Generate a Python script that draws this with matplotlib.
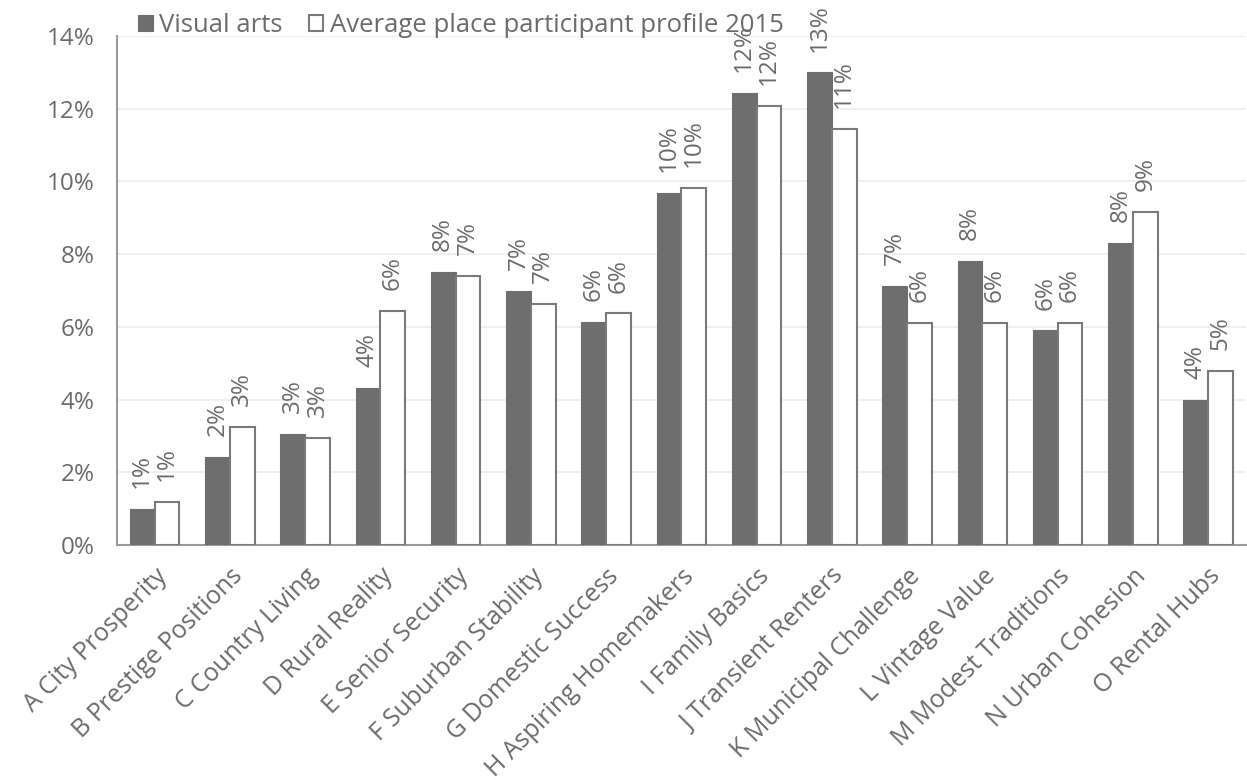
import matplotlib
matplotlib.use("Agg")
import matplotlib.pyplot as plt
import matplotlib.transforms as mtransforms
import numpy as np
from matplotlib.ticker import PercentFormatter

categories = [
    "A City Prosperity", "B Prestige Positions", "C Country Living",
    "D Rural Reality", "E Senior Security", "F Suburban Stability",
    "G Domestic Success", "H Aspiring Homemakers", "I Family Basics",
    "J Transient Renters", "K Municipal Challenge", "L Vintage Value",
    "M Modest Traditions", "N Urban Cohesion", "O Rental Hubs",
]
visual_arts = [1.0, 2.43, 3.06, 4.33, 7.51, 7.0, 6.14, 9.69, 12.43, 13.0,
               7.13, 7.82, 5.90, 8.30, 3.99]
average_profile = [1.18, 3.24, 2.94, 6.44, 7.41, 6.64, 6.37, 9.82, 12.07, 11.45,
                   6.11, 6.11, 6.10, 9.17, 4.78]
series_names = ["Visual arts", "Average place participant profile 2015"]

TEXT = "#6b6b6b"
DARK = "#6e6e6e"
EDGE = "#7a7a7a"
FS = 17.5

plt.rcParams["font.family"] = ["Open Sans", "DejaVu Sans"]

fig = plt.figure(figsize=(12.47, 7.80), dpi=100)
ax = fig.add_axes([117 / 1247, 1 - 545 / 780, 1 - 117 / 1247 - 0.001, (545 - 36) / 780])

x = np.arange(len(categories))
w = 0.33
b1 = ax.bar(x - w / 2, visual_arts, w, color=DARK, edgecolor=DARK, linewidth=0.8,
            label=series_names[0], zorder=3)
b2 = ax.bar(x + w / 2, average_profile, w, color="white", edgecolor=EDGE, linewidth=1.5,
            label=series_names[1], zorder=3)

for bars, vals in ((b1, visual_arts), (b2, average_profile)):
    for rect, v in zip(bars, vals):
        ax.annotate(f"{v:.0f}%", (rect.get_x() + rect.get_width() / 2, v),
                    xytext=(0, 15), textcoords="offset points",
                    rotation=90, ha="center", va="bottom",
                    fontsize=FS, color=TEXT)

ax.set_xlim(-0.5, len(categories) - 0.5)
ax.set_ylim(0, 14)
ax.set_yticks(np.arange(0, 15, 2))
ax.yaxis.set_major_formatter(PercentFormatter(decimals=0))
ax.grid(axis="y", color="#ececec", linewidth=1.2, zorder=0)
ax.set_axisbelow(True)

ax.set_xticks(x)
ax.set_xticklabels(categories, rotation=45, ha="right", va="top",
                   rotation_mode="anchor", fontsize=18, color=TEXT)
shift = mtransforms.ScaledTranslation(1 / 100, 0, fig.dpi_scale_trans)
for lbl in ax.get_xticklabels():
    lbl.set_transform(lbl.get_transform() + shift)
ax.tick_params(axis="x", length=0, pad=13.5)
ax.tick_params(axis="y", length=0, pad=16, labelsize=FS, labelcolor=TEXT)

for side in ("top", "right"):
    ax.spines[side].set_visible(False)
for side in ("left", "bottom"):
    ax.spines[side].set_color("#9a9a9a")
    ax.spines[side].set_linewidth(1.5)

leg = fig.legend(handles=[b1, b2], labels=series_names, loc="center left",
                 bbox_to_anchor=(138 / 1247, 1 - 26 / 780), ncol=2, frameon=False,
                 fontsize=18.5, handlelength=0.58, handleheight=0.58, handletextpad=0.25,
                 columnspacing=1.0, borderaxespad=0, borderpad=0)
for t in leg.get_texts():
    t.set_color(TEXT)

fig.savefig("out.png", dpi=100)
